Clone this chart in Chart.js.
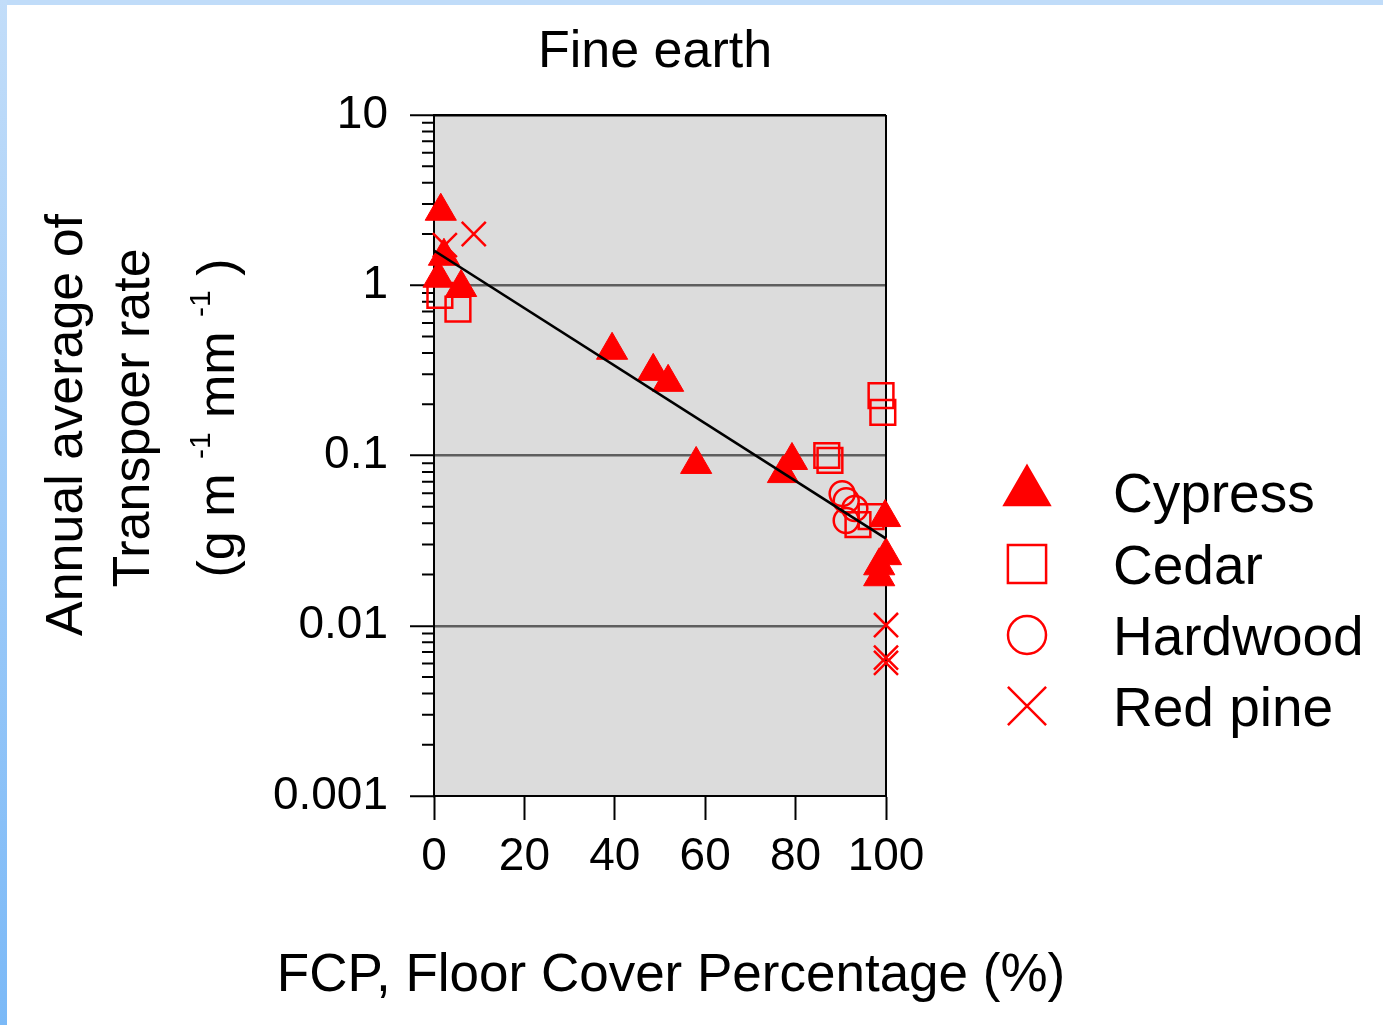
<!DOCTYPE html>
<html>
<head>
<meta charset="utf-8">
<script src="https://cdn.jsdelivr.net/npm/chart.js@4.4.1/dist/chart.umd.min.js"></script>
<style>
  body { margin: 0; background: #fff; }
  #wrap { position: relative; width: 1383px; height: 1025px; overflow: hidden; }
  #topband { position: absolute; left: 0; top: 0; width: 1383px; height: 5px; background: #c0dcf9; }
  #leftband { position: absolute; left: 0; top: 0; width: 7px; height: 1025px; background: linear-gradient(#c2ddf9, #7bb9f7); }
  canvas { position: absolute; left: 0; top: 0; }
</style>
</head>
<body>
<div id="wrap">
  <canvas id="chart" width="1383" height="1025"></canvas>
  <div id="topband"></div>
  <div id="leftband"></div>
</div>
<script>
// values (FCP in %, rate in g m-1 mm-1)
const cypressFcp = [1.5, 2.2, 1.0, 6.0, 39.4, 48.5, 51.8, 58.0, 79.2, 77.2, 99.8, 100, 98.5, 98.5];
const cypressRate = [2.72, 1.48, 1.10, 0.97, 0.415, 0.312, 0.269, 0.0886, 0.0935, 0.0783, 0.0432, 0.0258, 0.0225, 0.0194];

const cedarFcp = [1.3, 5.3, 98.9, 99.3, 86.9, 87.6, 96.7, 93.8];
const cedarRate = [0.873, 0.723, 0.225, 0.179, 0.100, 0.0935, 0.0438, 0.0393];

const hardwoodFcp = [90.3, 91.2, 93.1, 91.2];
const hardwoodRate = [0.0597, 0.0543, 0.0488, 0.0415];

const redPineFcp = [8.8, 2.4, 100, 100, 100];
const redPineRate = [2.0, 1.72, 0.0101, 0.0065, 0.00605];

// regression line end points
const fitFcp = [0, 100];
const fitRate = [1.6, 0.0325];

const yDecades = [0.001, 0.01, 0.1, 1, 10];
const yTickLabels = ['0.001', '0.01', '0.1', '1', '10'];
const xTickStep = 20;

const legendNames = ['Cypress', 'Cedar', 'Hardwood', 'Red pine'];

function pts(xs, ys) {
    return xs.map((x, i) => ({ x: x, y: ys[i] }));
}

function isDecade(v) {
    const l = Math.log10(v);
    return Math.abs(l - Math.round(l)) < 1e-9;
}

const RED = '#ff0000';
const SANS = '"Liberation Sans", Arial, sans-serif';

const framePlugin = {
    id: 'frame',
    beforeDraw(chart) {
        const { ctx, chartArea: a } = chart;
        ctx.save();
        ctx.fillStyle = '#dcdcdc';
        ctx.fillRect(a.left, a.top, a.right - a.left, a.bottom - a.top);
        ctx.restore();
    },
    beforeDatasetsDraw(chart) {
        const { ctx, chartArea: a, scales } = chart;
        const y = scales.y;
        ctx.save();
        ctx.strokeStyle = '#000';
        ctx.lineWidth = 2;
        ctx.beginPath();
        ctx.moveTo(a.right, a.top);
        ctx.lineTo(a.right, a.bottom);
        y.ticks.forEach(t => {
            if (isDecade(t.value)) return;
            const py = y.getPixelForValue(t.value);
            ctx.moveTo(a.left - 12, py);
            ctx.lineTo(a.left, py);
        });
        ctx.stroke();
        ctx.restore();
    },
    afterDraw(chart) {
        const ctx = chart.ctx;
        ctx.save();
        ctx.fillStyle = '#000';

        // title
        ctx.font = '52px ' + SANS;
        ctx.textAlign = 'center';
        ctx.textBaseline = 'alphabetic';
        ctx.fillText('Fine earth', 655, 67);

        // x title
        ctx.font = '53px ' + SANS;
        ctx.fillText('FCP, Floor Cover Percentage (%)', 671, 991);

        // y title, three rotated lines
        const main = '52px ' + SANS;
        const sup = '30px ' + SANS;
        const lines = [
            { x: 82, y: 425, segs: [['Annual average of', 0]] },
            { x: 149, y: 418, segs: [['Transpoer rate', 0]] },
            { x: 234, y: 418, segs: [['(g m ', 0], ['-1', 1], [' mm ', 0], ['-1', 1], [' )', 0]] }
        ];
        lines.forEach(line => {
            ctx.save();
            ctx.translate(line.x, line.y);
            ctx.rotate(-Math.PI / 2);
            ctx.textAlign = 'left';
            let total = 0;
            line.segs.forEach(s => { ctx.font = s[1] ? sup : main; total += ctx.measureText(s[0]).width; });
            let cx = -total / 2;
            line.segs.forEach(s => {
                ctx.font = s[1] ? sup : main;
                ctx.fillText(s[0], cx, s[1] ? -24 : 0);
                cx += ctx.measureText(s[0]).width;
            });
            ctx.restore();
        });

        // legend
        const rows = [
            { y: 492, style: 'triangle', r: 26, fill: RED, bw: 1 },
            { y: 564, style: 'rect', r: 27, fill: 'rgba(0,0,0,0)', bw: 2.5 },
            { y: 635, style: 'circle', r: 19, fill: 'rgba(0,0,0,0)', bw: 2.5 },
            { y: 706, style: 'crossRot', r: 27, fill: 'rgba(0,0,0,0)', bw: 2.5 }
        ];
        rows.forEach((row, i) => {
            ctx.fillStyle = row.fill;
            ctx.strokeStyle = RED;
            Chart.helpers.drawPoint(ctx, { pointStyle: row.style, radius: row.r, rotation: 0, borderWidth: row.bw }, 1027, row.y);
            ctx.fillStyle = '#000';
            ctx.font = '55px ' + SANS;
            ctx.textAlign = 'left';
            ctx.textBaseline = 'alphabetic';
            ctx.fillText(legendNames[i], 1113, row.y + 20);
        });
        ctx.restore();
    }
};

const ctx = document.getElementById('chart').getContext('2d');
const chart = new Chart(ctx, {
    type: 'scatter',
    data: {
        datasets: [
            {
                label: 'fit',
                type: 'line',
                data: pts(fitFcp, fitRate),
                borderColor: '#000',
                borderWidth: 2.5,
                pointRadius: 0,
                fill: false
            },
            {
                label: 'Red pine',
                data: pts(redPineFcp, redPineRate),
                pointStyle: 'crossRot',
                pointRadius: 17,
                borderColor: RED,
                backgroundColor: 'rgba(0,0,0,0)',
                borderWidth: 2.5,
                clip: false
            },
            {
                label: 'Hardwood',
                data: pts(hardwoodFcp, hardwoodRate),
                pointStyle: 'circle',
                pointRadius: 12.5,
                borderColor: RED,
                backgroundColor: 'rgba(0,0,0,0)',
                borderWidth: 2.5,
                clip: false
            },
            {
                label: 'Cedar',
                data: pts(cedarFcp, cedarRate),
                pointStyle: 'rect',
                pointRadius: 17.5,
                borderColor: RED,
                backgroundColor: 'rgba(0,0,0,0)',
                borderWidth: 2.5,
                clip: false
            },
            {
                label: 'Cypress',
                data: pts(cypressFcp, cypressRate),
                pointStyle: 'triangle',
                pointRadius: 18,
                borderColor: RED,
                backgroundColor: RED,
                borderWidth: 1,
                clip: false
            }
        ]
    },
    options: {
        responsive: false,
        animation: false,
        devicePixelRatio: 1,
        layout: { padding: { left: 0, top: 115, right: 497, bottom: 0 } },
        plugins: {
            legend: { display: false },
            tooltip: { enabled: false },
            title: { display: false }
        },
        scales: {
            x: {
                type: 'linear',
                min: 0,
                max: 100,
                ticks: {
                    stepSize: xTickStep,
                    color: '#000',
                    font: { family: SANS, size: 46 },
                    padding: 10,
                    maxRotation: 0
                },
                grid: {
                    drawOnChartArea: false,
                    drawTicks: true,
                    tickLength: 24,
                    tickColor: '#000',
                    tickWidth: 2
                },
                border: { display: true, color: '#000', width: 2 },
                afterFit(s) { s.height = 229; }
            },
            y: {
                type: 'logarithmic',
                min: 0.001,
                max: 10,
                afterBuildTicks(s) {
                    const t = [];
                    yDecades.forEach((d, i) => {
                        if (i === yDecades.length - 1) { t.push({ value: d }); return; }
                        for (let m = 1; m <= 9; m++) t.push({ value: d * m });
                    });
                    s.ticks = t;
                },
                ticks: {
                    autoSkip: false,
                    color: '#000',
                    font: { family: SANS, size: 46 },
                    padding: 22,
                    callback(v) {
                        if (!isDecade(v)) return '';
                        const i = yDecades.findIndex(d => Math.abs(Math.log10(d) - Math.log10(v)) < 1e-9);
                        return i >= 0 ? yTickLabels[i] : '';
                    }
                },
                grid: {
                    drawOnChartArea: true,
                    drawTicks: true,
                    tickLength: 24,
                    lineWidth: 2.5,
                    tickWidth: 2,
                    color(c) {
                        if (!c.tick || !isDecade(c.tick.value)) return 'rgba(0,0,0,0)';
                        const v = c.tick.value;
                        if (v > 5) return '#000';
                        if (v < 0.002) return 'rgba(0,0,0,0)';
                        return '#5e5e5e';
                    },
                    tickColor(c) {
                        return c.tick && isDecade(c.tick.value) ? '#000' : 'rgba(0,0,0,0)';
                    }
                },
                border: { display: true, color: '#000', width: 2 },
                afterFit(s) { s.width = 434; }
            }
        }
    },
    plugins: [framePlugin]
});
</script>
</body>
</html>
